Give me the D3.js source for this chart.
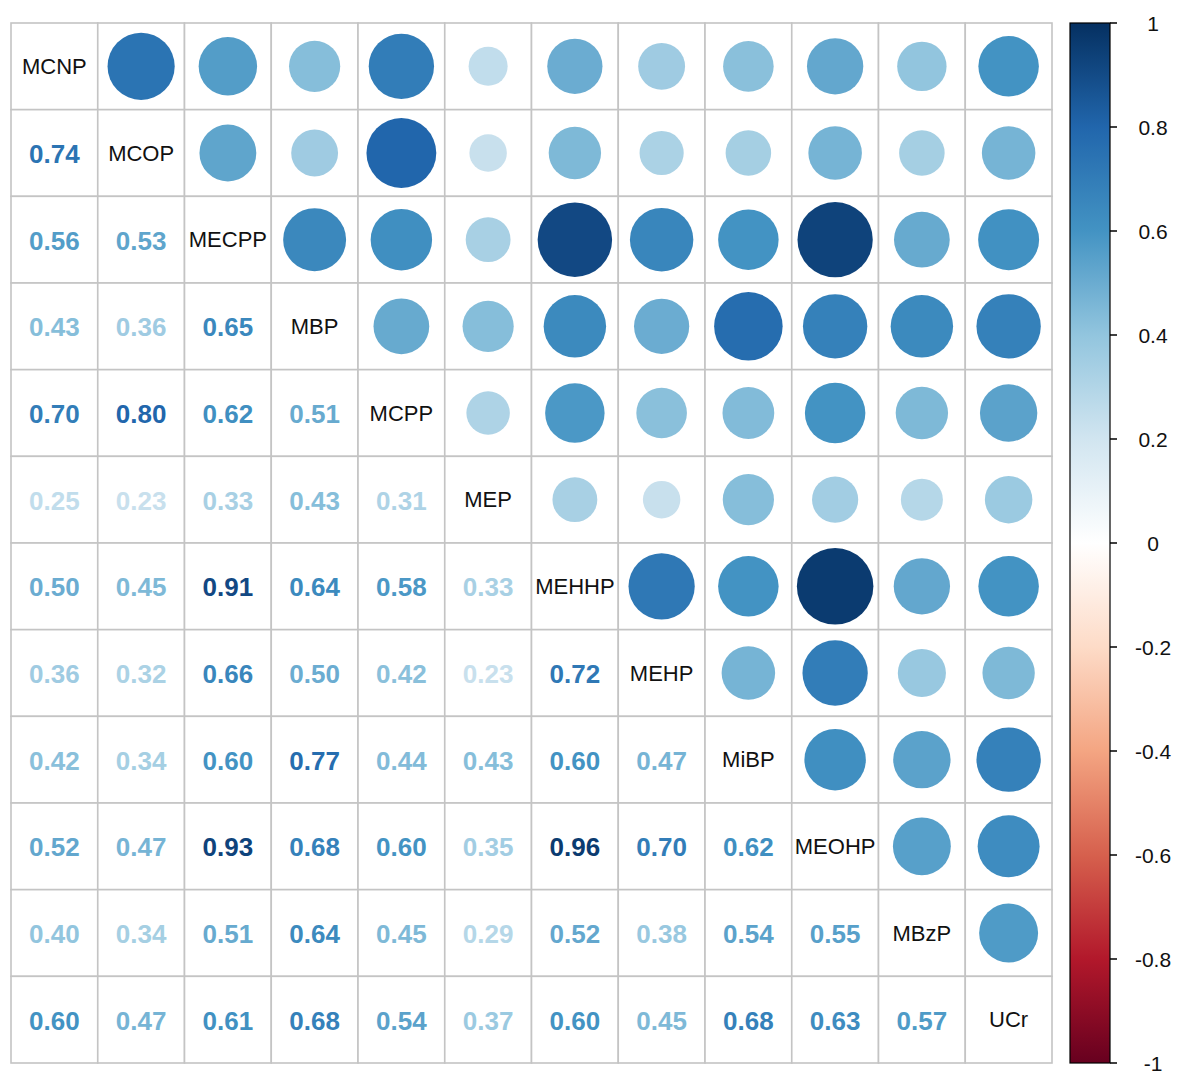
<!DOCTYPE html>
<html>
<head>
<meta charset="utf-8">
<script src="https://cdn.jsdelivr.net/npm/d3@7"></script>
<style>
  body { margin: 0; background: #ffffff; }
  text { font-family: Arial, "Liberation Sans", sans-serif; }
</style>
</head>
<body>
<div id="chart"></div>
<script>
// variable names, in matrix order
const variables = ['MCNP', 'MCOP', 'MECPP', 'MBP', 'MCPP', 'MEP', 'MEHHP', 'MEHP', 'MiBP', 'MEOHP', 'MBzP', 'UCr'];

// lower triangle of the correlation matrix, row by row
const lowerRows = [
    [],
    [0.74],
    [0.56, 0.53],
    [0.43, 0.36, 0.65],
    [0.70, 0.80, 0.62, 0.51],
    [0.25, 0.23, 0.33, 0.43, 0.31],
    [0.50, 0.45, 0.91, 0.64, 0.58, 0.33],
    [0.36, 0.32, 0.66, 0.50, 0.42, 0.23, 0.72],
    [0.42, 0.34, 0.60, 0.77, 0.44, 0.43, 0.60, 0.47],
    [0.52, 0.47, 0.93, 0.68, 0.60, 0.35, 0.96, 0.70, 0.62],
    [0.40, 0.34, 0.51, 0.64, 0.45, 0.29, 0.52, 0.38, 0.54, 0.55],
    [0.60, 0.47, 0.61, 0.68, 0.54, 0.37, 0.60, 0.45, 0.68, 0.63, 0.57]
];

// colour legend ticks
const legendTicks = [1, 0.8, 0.6, 0.4, 0.2, 0, -0.2, -0.4, -0.6, -0.8, -1];
const legendLabels = ['1', '0.8', '0.6', '0.4', '0.2', '0', '-0.2', '-0.4', '-0.6', '-0.8', '-1'];

// RdBu palette stops (-1 .. 1)
const paletteStops = ['#67001F', '#B2182B', '#D6604D', '#F4A582', '#FDDBC7', '#FFFFFF',
                      '#D1E5F0', '#92C5DE', '#4393C3', '#2166AC', '#053061'];

const width = 1181;
const height = 1086;
const gridLeft = 11, gridRight = 1052, gridTop = 23, gridBottom = 1063;

const svg = d3.select('#chart')
    .append('svg')
    .attr('width', width)
    .attr('height', height);

const x = d3.scaleBand().domain(variables).range([gridLeft, gridRight]);
const y = d3.scaleBand().domain(variables).range([gridTop, gridBottom]);

const color = d3.scaleLinear()
    .domain(d3.range(paletteStops.length).map(i => -1 + i * 0.2))
    .range(paletteStops)
    .interpolate(d3.interpolateRgb);

const radius = d3.scaleSqrt().domain([0, 1]).range([0, 0.45 * x.bandwidth()]);

// build cells
const cells = [];
variables.forEach((rowName, i) => {
    variables.forEach((colName, j) => {
        let value;
        if (i === j) value = 1;
        else if (j < i) value = lowerRows[i][j];
        else value = lowerRows[j][i];
        cells.push({ row: rowName, col: colName, i: i, j: j, value: value });
    });
});

// grid
const grid = svg.append('g');
grid.selectAll('rect')
    .data(cells)
    .enter()
    .append('rect')
    .attr('x', d => x(d.col))
    .attr('y', d => y(d.row))
    .attr('width', x.bandwidth())
    .attr('height', y.bandwidth())
    .attr('fill', 'white')
    .attr('stroke', '#c4c4c4')
    .attr('stroke-width', 1.6);

// upper triangle: circles
svg.append('g').selectAll('circle')
    .data(cells.filter(d => d.j > d.i))
    .enter()
    .append('circle')
    .attr('cx', d => x(d.col) + x.bandwidth() / 2)
    .attr('cy', d => y(d.row) + y.bandwidth() / 2)
    .attr('r', d => radius(Math.abs(d.value)))
    .attr('fill', d => color(d.value));

// lower triangle: numbers
svg.append('g').selectAll('text')
    .data(cells.filter(d => d.j < d.i))
    .enter()
    .append('text')
    .attr('x', d => x(d.col) + x.bandwidth() / 2)
    .attr('y', d => y(d.row) + y.bandwidth() / 2 + 1)
    .attr('text-anchor', 'middle')
    .attr('dominant-baseline', 'central')
    .style('font-size', '26px')
    .style('font-weight', 'bold')
    .attr('fill', d => color(d.value))
    .text(d => d.value.toFixed(2));

// diagonal: variable names
svg.append('g').selectAll('text')
    .data(cells.filter(d => d.j === d.i))
    .enter()
    .append('text')
    .attr('x', d => x(d.col) + x.bandwidth() / 2)
    .attr('y', d => y(d.row) + y.bandwidth() / 2)
    .attr('text-anchor', 'middle')
    .attr('dominant-baseline', 'central')
    .style('font-size', '22px')
    .attr('fill', '#111')
    .text(d => d.row);

// colour legend
const barLeft = 1070, barWidth = 40;
const legendScale = d3.scaleLinear().domain([-1, 1]).range([gridBottom, gridTop]);

const defs = svg.append('defs');
const grad = defs.append('linearGradient')
    .attr('id', 'corr-grad')
    .attr('x1', 0).attr('y1', 1)
    .attr('x2', 0).attr('y2', 0);
grad.selectAll('stop')
    .data(paletteStops)
    .enter()
    .append('stop')
    .attr('offset', (d, i) => i / (paletteStops.length - 1))
    .attr('stop-color', d => d);

svg.append('rect')
    .attr('x', barLeft)
    .attr('y', gridTop)
    .attr('width', barWidth)
    .attr('height', gridBottom - gridTop)
    .attr('fill', 'url(#corr-grad)')
    .attr('stroke', '#000')
    .attr('stroke-width', 1.2);

const legend = svg.append('g');
legend.selectAll('line')
    .data(legendTicks)
    .enter()
    .append('line')
    .attr('x1', barLeft + barWidth)
    .attr('x2', barLeft + barWidth + 7)
    .attr('y1', d => legendScale(d))
    .attr('y2', d => legendScale(d))
    .attr('stroke', '#000')
    .attr('stroke-width', 1.5);

legend.selectAll('text')
    .data(legendTicks)
    .enter()
    .append('text')
    .attr('x', 1153)
    .attr('y', d => legendScale(d))
    .attr('text-anchor', 'middle')
    .attr('dominant-baseline', 'central')
    .style('font-size', '21px')
    .attr('fill', '#111')
    .text((d, i) => legendLabels[i]);
</script>
</body>
</html>
